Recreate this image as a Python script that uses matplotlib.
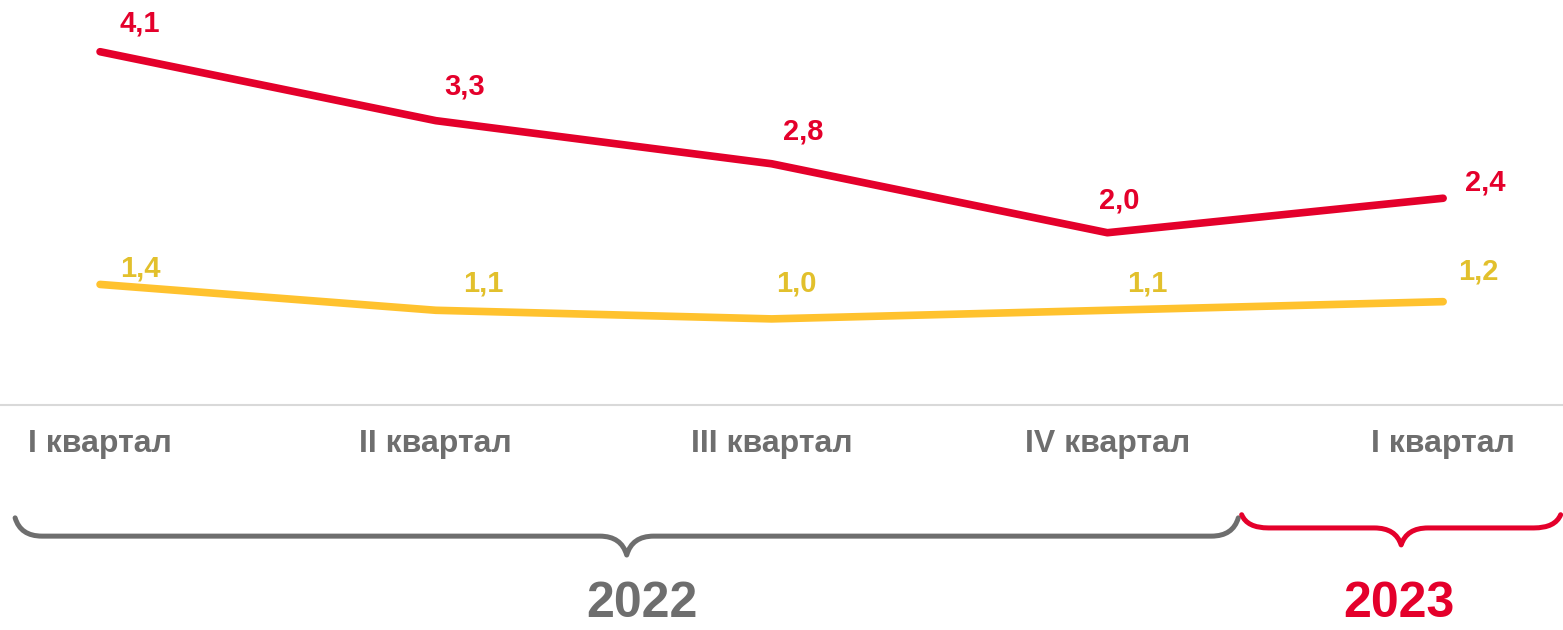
import matplotlib.pyplot as plt
from matplotlib.path import Path
from matplotlib.patches import PathPatch
from matplotlib.transforms import blended_transform_factory

# DATA
quarters = ['I квартал', 'II квартал', 'III квартал', 'IV квартал', 'I квартал']
red_vals = [4.1, 3.3, 2.8, 2.0, 2.4]
yellow_vals = [1.4, 1.1, 1.0, 1.1, 1.2]
years = ['2022', '2023']

RED = '#e4002b'
YELLOW = '#ffc22e'
YELLOW_TXT = '#e2c02c'
GREY = '#6e6e6e'

plt.rcParams['font.family'] = ['Liberation Sans', 'DejaVu Sans']

fig = plt.figure(figsize=(15.63, 6.3), dpi=100)
ax = fig.add_axes([0, 0.357, 1, 0.643])

x = range(len(quarters))
ax.plot(x, red_vals, color=RED, lw=5.5, solid_capstyle='round', solid_joinstyle='round')
ax.plot(x, yellow_vals, color=YELLOW, lw=5.5, solid_capstyle='round', solid_joinstyle='round')

# label offsets in pixels (dx, dy)
red_off = [(40, 28), (29, 34), (32, 32), (12, 32), (42, 16)]
yel_off = [(40, 16), (47, 27), (25, 35), (40, 27), (35, 30)]
for i in x:
    ax.annotate(f'{red_vals[i]:.1f}'.replace('.', ','), (i, red_vals[i]),
                xytext=red_off[i], textcoords='offset pixels', ha='center', va='center',
                color=RED, fontsize=21, fontweight='bold')
    ax.annotate(f'{yellow_vals[i]:.1f}'.replace('.', ','), (i, yellow_vals[i]),
                xytext=yel_off[i], textcoords='offset pixels', ha='center', va='center',
                color=YELLOW_TXT, fontsize=21, fontweight='bold')

ax.set_xlim(-0.298, 4.357)
ax.set_ylim(0, 4.7)
ax.set_xticks(list(x))
ax.set_xticklabels(quarters, fontsize=23, fontweight='bold', color=GREY)
ax.tick_params(axis='x', length=0, pad=17)
ax.set_yticks([])
for s in ['top', 'left', 'right']:
    ax.spines[s].set_visible(False)
ax.spines['bottom'].set_color('#d9d9d9')
ax.spines['bottom'].set_linewidth(1.5)

# braces under the quarters
trans = blended_transform_factory(ax.transData, fig.transFigure)


def brace(x0, x1, ytop, yline, ytip, color):
    r = 0.08
    xm = (x0 + x1) / 2
    verts = [(x0, ytop), (x0 + 0.2 * r, yline), (x0 + r, yline),
             (xm - r, yline),
             (xm - 0.2 * r, yline), (xm, ytip),
             (xm + 0.2 * r, yline), (xm + r, yline),
             (x1 - r, yline),
             (x1 - 0.2 * r, yline), (x1, ytop)]
    codes = [Path.MOVETO, Path.CURVE3, Path.CURVE3, Path.LINETO,
             Path.CURVE3, Path.CURVE3, Path.CURVE3, Path.CURVE3,
             Path.LINETO, Path.CURVE3, Path.CURVE3]
    p = PathPatch(Path(verts, codes), transform=trans, fill=False, edgecolor=color,
                  lw=3.6, capstyle='round', joinstyle='round', clip_on=False)
    fig.add_artist(p)
    return xm


xm1 = brace(-0.253, 3.39, 0.178, 0.149, 0.119, GREY)
xm2 = brace(3.40, 4.35, 0.183, 0.162, 0.135, RED)

fig.text(xm1 + 0.045, 0.042, years[0], transform=trans, ha='center', va='center',
         fontsize=36, fontweight='bold', color=GREY)
fig.text(xm2 - 0.008, 0.042, years[1], transform=trans, ha='center', va='center',
         fontsize=36, fontweight='bold', color=RED)

fig.savefig('out.png', dpi=100, facecolor='white')
